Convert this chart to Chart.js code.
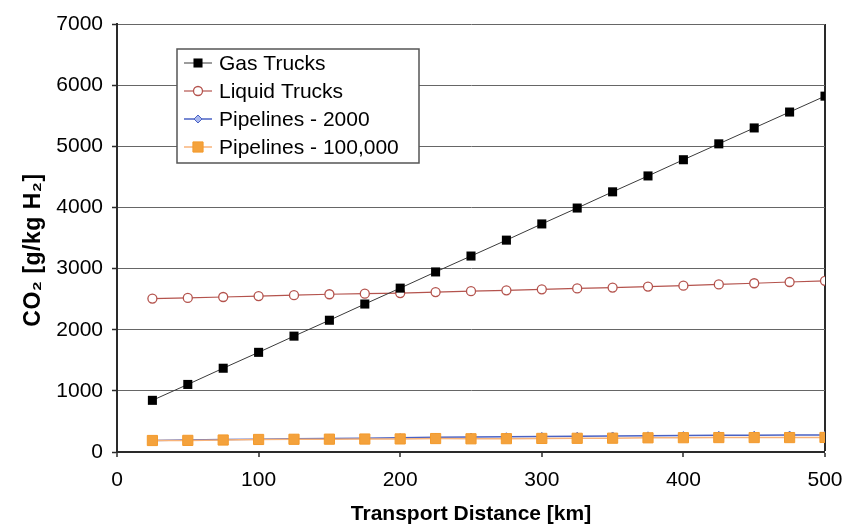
<!DOCTYPE html>
<html>
<head>
<meta charset="utf-8">
<script src="https://cdn.jsdelivr.net/npm/chart.js@4/dist/chart.umd.min.js"></script>
<style>
  html, body { margin: 0; padding: 0; background: #fff; }
  #wrap { width: 844px; height: 528px; }
</style>
</head>
<body>
<div id="wrap"><canvas id="c" width="844" height="528"></canvas></div>
<script>
// ---- data ----
const distances = [25, 50, 75, 100, 125, 150, 175, 200, 225, 250, 275, 300, 325, 350, 375, 400, 425, 450, 475, 500];
const gasTrucks = [845, 1105, 1370, 1630, 1895, 2155, 2420, 2680, 2945, 3205, 3465, 3730, 3990, 4255, 4515, 4780, 5040, 5300, 5560, 5820];
const liquidTrucks = [2510, 2520, 2535, 2550, 2565, 2580, 2590, 2600, 2615, 2630, 2645, 2660, 2675, 2690, 2705, 2720, 2740, 2760, 2780, 2800];
const pipelines2000 = [190, 195, 205, 210, 218, 222, 226, 235, 240, 245, 250, 255, 258, 262, 265, 268, 272, 274, 276, 278];
const pipelines100k = [188, 190, 196, 205, 208, 210, 212, 214, 220, 216, 218, 222, 224, 226, 232, 234, 236, 236, 236, 238];
const seriesLabels = ["Gas Trucks", "Liquid Trucks", "Pipelines - 2000", "Pipelines - 100,000"];
const xTicks = [0, 100, 200, 300, 400, 500];
const yTicks = [0, 1000, 2000, 3000, 4000, 5000, 6000, 7000];
const xTitle = "Transport Distance [km]";
const yTitle = "CO\u2082 [g/kg H\u2082]";

const FONT = '"Liberation Sans", Arial, sans-serif';

function pts(vals) { return distances.map((d, i) => ({ x: d, y: vals[i] })); }

const datasets = [
  { label: seriesLabels[0], data: pts(gasTrucks), borderColor: '#3a3a3a', borderWidth: 1,
    pointStyle: 'rect', pointRadius: 6.4, pointBackgroundColor: '#000', pointBorderColor: '#000', pointBorderWidth: 0, order: 0 },
  { label: seriesLabels[1], data: pts(liquidTrucks), borderColor: '#b4534d', borderWidth: 1.2,
    pointStyle: 'circle', pointRadius: 4.5, pointBackgroundColor: '#fff', pointBorderColor: '#b4534d', pointBorderWidth: 1.3, order: 1 },
  { label: seriesLabels[2], data: pts(pipelines2000), borderColor: '#4a62c4', borderWidth: 1.5,
    pointStyle: 'rectRot', pointRadius: 4, pointBackgroundColor: '#a9b8ef', pointBorderColor: '#4a62c4', pointBorderWidth: 1, order: 3 },
  { label: seriesLabels[3], data: pts(pipelines100k), borderColor: '#f8b37a', borderWidth: 1.5,
    pointStyle: 'rect', pointRadius: 7.2, pointBackgroundColor: '#f4a23c', pointBorderColor: '#f39a2c', pointBorderWidth: 1, order: 2 }
];

function drawMarker(ctx, ds, x, y) {
  ctx.save();
  ctx.fillStyle = ds.pointBackgroundColor;
  ctx.strokeStyle = ds.pointBorderColor;
  ctx.lineWidth = ds.pointBorderWidth;
  const r = ds.pointRadius;
  ctx.beginPath();
  if (ds.pointStyle === 'rect') {
    const s = Math.SQRT1_2 * r;
    ctx.rect(x - s, y - s, 2 * s, 2 * s);
  } else if (ds.pointStyle === 'circle') {
    ctx.arc(x, y, r, 0, Math.PI * 2);
  } else if (ds.pointStyle === 'rectRot') {
    ctx.moveTo(x, y - r); ctx.lineTo(x + r, y); ctx.lineTo(x, y + r); ctx.lineTo(x - r, y); ctx.closePath();
  }
  ctx.fill();
  if (ds.pointBorderWidth > 0) ctx.stroke();
  ctx.restore();
}

const legendPlugin = {
  id: 'boxLegend',
  afterDatasetsDraw(chart) {
    const ctx = chart.ctx;
    const bx = 177, by = 49, bw = 242, bh = 114;
    ctx.save();
    ctx.fillStyle = '#fff';
    ctx.fillRect(bx, by, bw, bh);
    ctx.strokeStyle = '#555';
    ctx.lineWidth = 1.5;
    ctx.strokeRect(bx, by, bw, bh);
    ctx.font = '21px ' + FONT;
    ctx.textBaseline = 'middle';
    ctx.textAlign = 'left';
    chart.data.datasets.forEach((ds, i) => {
      const y = 63 + i * 28;
      ctx.strokeStyle = ds.borderColor;
      ctx.lineWidth = ds.borderWidth;
      ctx.beginPath(); ctx.moveTo(184, y); ctx.lineTo(212, y); ctx.stroke();
      drawMarker(ctx, ds, 198, y);
      ctx.fillStyle = '#000';
      ctx.fillText(ds.label, 219, y + 1);
    });
    ctx.restore();
  }
};

// y-axis title drawn as rotated text (positioned like the reference)
const yTitlePlugin = {
  id: 'yTitle',
  afterDraw(chart) {
    const ctx = chart.ctx;
    ctx.save();
    ctx.translate(34, 250);
    ctx.rotate(-Math.PI / 2);
    ctx.font = 'bold 23px ' + FONT;
    if ('letterSpacing' in ctx) ctx.letterSpacing = '0.5px';
    ctx.fillStyle = '#000';
    ctx.textAlign = 'center';
    ctx.textBaseline = 'middle';
    ctx.fillText(yTitle, 0, 0);
    ctx.restore();
  }
};

new Chart(document.getElementById('c'), {
  type: 'line',
  data: { datasets },
  options: {
    responsive: false,
    animation: false,
    events: [],
    layout: { padding: { left: 0, top: 24, right: 19, bottom: 0 } },
    plugins: { legend: { display: false }, tooltip: { enabled: false } },
    elements: { line: { tension: 0 } },
    scales: {
      x: {
        type: 'linear', min: 0, max: 500,
        afterBuildTicks: s => { s.ticks = xTicks.map(v => ({ value: v })); },
        afterFit: s => { s.height = 76; s.paddingLeft = 0; s.paddingRight = 0; },
        ticks: { font: { family: FONT, size: 21 }, color: '#000', padding: 11, maxRotation: 0, callback: v => String(v) },
        grid: {
          color: c => (c.tick && c.tick.value === 500) ? '#2a2a2a' : 'rgba(0,0,0,0)',
          lineWidth: c => (c.tick && c.tick.value === 500) ? 2 : 0,
          tickColor: '#2a2a2a', tickWidth: 1.5, tickLength: 5, drawTicks: true
        },
        border: { color: '#2a2a2a', width: 2 },
        title: { display: true, text: xTitle, font: { family: FONT, size: 21, weight: 'bold' }, color: '#000', padding: { top: 0, bottom: 1 } }
      },
      y: {
        type: 'linear', min: 0, max: 7000,
        afterBuildTicks: s => { s.ticks = yTicks.map(v => ({ value: v })); },
        afterFit: s => { s.width = 117; s.paddingTop = 0; s.paddingBottom = 0; },
        ticks: { font: { family: FONT, size: 21 }, color: '#000', padding: 9, callback: v => String(v) },
        grid: { color: '#666', lineWidth: 1, tickColor: '#2a2a2a', tickWidth: 1.5, tickLength: 5 },
        border: { color: '#2a2a2a', width: 2 },
        title: { display: false }
      }
    }
  },
  plugins: [legendPlugin, yTitlePlugin]
});
</script>
</body>
</html>
